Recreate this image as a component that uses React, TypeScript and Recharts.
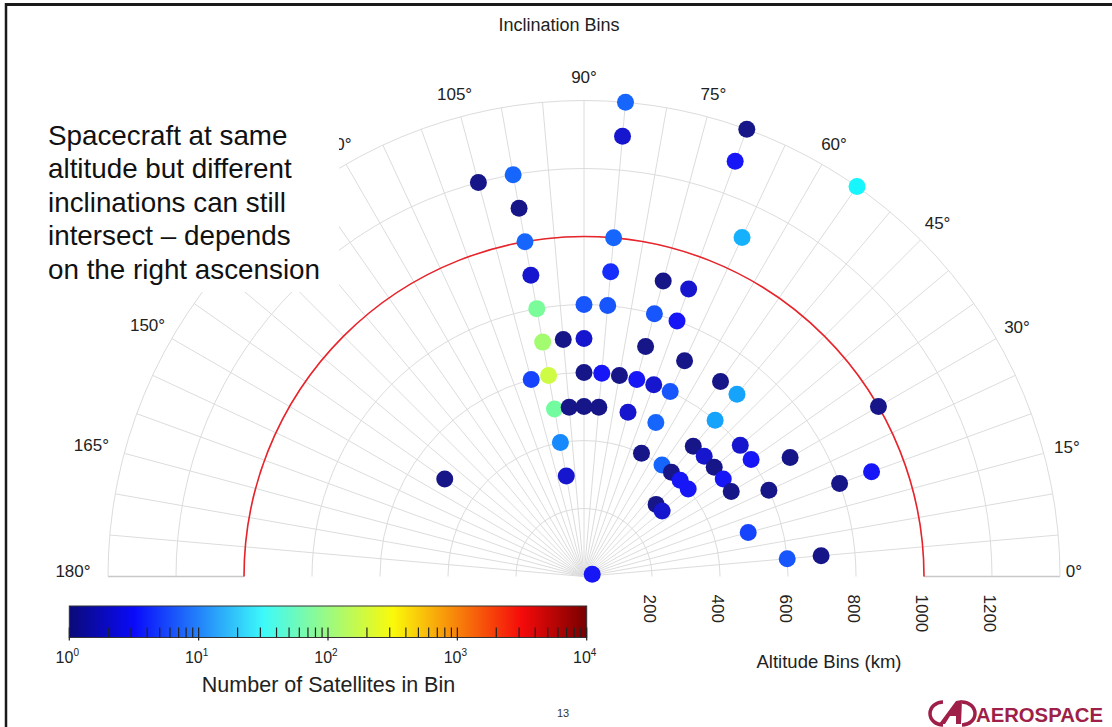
import React from 'react';
import { ScatterChart, Scatter, XAxis, YAxis, ReferenceArea } from 'recharts';

// ---------- data ----------
const inclinations = [
  85, 85, 70, 70, 55, 105, 100, 100, 100, 85, 65, 100, 85, 75, 70, 100, 90, 85, 75, 70,
  100, 95, 90, 75, 65, 105, 100, 90, 85, 80, 75, 70, 65, 55, 50, 100, 95, 90, 85, 75,
  65, 50, 100, 65, 50, 45, 40, 35, 30, 40, 35, 25, 30, 55, 50, 45, 40, 45, 40, 15,
  5, 5, 20, 20, 30, 145, 100, 15,
];
const altitudes = [
  1400, 1300, 1400, 1300, 1400, 1200, 1200, 1100, 1000, 1000, 1100, 900, 900, 900, 900, 800, 800, 800, 800, 800,
  700, 700, 700, 700, 700, 600, 600, 600, 600, 600, 600, 600, 600, 700, 700, 500, 500, 500, 500, 500,
  500, 600, 400, 400, 500, 500, 500, 500, 500, 600, 600, 600, 700, 400, 400, 400, 400, 300, 300, 500,
  600, 700, 800, 900, 1000, 500, 300, 25,
];
const satelliteCounts = [
  7, 2, 1, 3, 30, 1, 7, 1, 7, 7, 15, 2, 4, 1, 2, 85, 6, 6, 6, 3,
  130, 1, 2, 1, 1, 5, 200, 1, 3, 1, 3, 2, 6, 1, 13, 80, 1, 1, 1, 2,
  7, 13, 10, 1, 1, 2, 1, 3, 1, 2, 3, 1, 1, 7, 1, 3, 3, 1, 2, 5,
  6, 1, 1, 3, 1, 1, 2, 3,
];

// 135° label is hidden behind the text box in the reference
const angleTicks = [0, 15, 30, 45, 60, 75, 90, 105, 120, 150, 165, 180];
const altitudeTicks = [200, 400, 600, 800, 1000, 1200];
const gridAltitudes = [200, 400, 600, 800, 1000, 1200, 1400];
const highlightAltitude = 1000;
const colorbarExponents = [0, 1, 2, 3, 4];

const textLines = [
  'Spacecraft at same',
  'altitude but different',
  'inclinations can still',
  'intersect \u2013 depends',
  'on the right ascension',
];

// ---------- layout ----------
const W = 1112;
const H = 727;
const CX = 584;
const CY = 576.5;
const PX_PER_KM = 0.34;
const XMIN = -CX / PX_PER_KM;
const XMAX = (W - CX) / PX_PER_KM;
const YMIN = -(H - CY) / PX_PER_KM;
const YMAX = CY / PX_PER_KM;
const RMAX = 1400;
const FONT = '"Liberation Sans", Arial, Helvetica, sans-serif';

const clamp = (v: number) => Math.max(0, Math.min(1, v));
function jet(t: number) {
  const r = clamp(1.5 - Math.abs(4 * t - 3));
  const g = clamp(1.5 - Math.abs(4 * t - 2));
  const b = clamp(1.5 - Math.abs(4 * t - 1));
  const mix = (c: number) => Math.round(c * 255 * 0.9 + 22);
  return `rgb(${mix(r)},${mix(g)},${mix(b)})`;
}
const colorFor = (count: number) => jet(Math.log10(count) / 4);

const rad = (d: number) => (d * Math.PI) / 180;
const points = inclinations.map((inc, i) => ({
  x: altitudes[i] * Math.cos(rad(inc)),
  y: altitudes[i] * Math.sin(rad(inc)),
  inc,
  alt: altitudes[i],
  count: satelliteCounts[i],
}));

const labelRadius = (a: number) => (a === 0 ? 490 : a === 180 ? 511 : a === 165 ? 510 : a === 150 ? 504 : 500);

const PolarGrid = (props: any) => {
  const { x, y, width, height } = props;
  if (x == null || width == null) return <g />;
  const cx = x + width / 2;
  const cy = y + height;
  const k = width / (2 * RMAX);
  const radials: number[] = [];
  for (let a = 5; a < 180; a += 5) radials.push(a);
  return (
    <g>
      {radials.map((a) => (
        <line
          key={'r' + a}
          x1={cx}
          y1={cy}
          x2={cx + RMAX * k * Math.cos(rad(a))}
          y2={cy - RMAX * k * Math.sin(rad(a))}
          stroke="#dcdcdc"
          strokeWidth={1}
        />
      ))}
      {[0, 180].map((a) => (
        <line
          key={'b' + a}
          x1={cx + highlightAltitude * k * Math.cos(rad(a))}
          y1={cy}
          x2={cx + RMAX * k * Math.cos(rad(a))}
          y2={cy}
          stroke="#c8c8c8"
          strokeWidth={1.5}
        />
      ))}
      {gridAltitudes.map((r) => (
        <path
          key={'a' + r}
          d={`M ${cx - r * k} ${cy} A ${r * k} ${r * k} 0 0 1 ${cx + r * k} ${cy}`}
          fill="none"
          stroke="#dcdcdc"
          strokeWidth={1}
        />
      ))}
      <path
        d={`M ${cx - highlightAltitude * k} ${cy} A ${highlightAltitude * k} ${highlightAltitude * k} 0 0 1 ${cx + highlightAltitude * k} ${cy}`}
        fill="none"
        stroke="#e8242a"
        strokeWidth={1.6}
      />
      {angleTicks.map((a) => {
        const r = labelRadius(a);
        const lx = cx + r * Math.cos(rad(a));
        const ly = cy - r * Math.sin(rad(a)) - (a === 0 || a === 180 ? 6 : 0);
        return (
          <text
            key={'l' + a}
            x={lx}
            y={ly}
            dy="0.36em"
            textAnchor="middle"
            fontSize={17}
            fontFamily={FONT}
            fill="#222"
          >
            {a + '\u00B0'}
          </text>
        );
      })}
      {altitudeTicks.map((r) => {
        const tx = cx + r * k - 2;
        const ty = cy + 18;
        return (
          <text
            key={'t' + r}
            x={tx}
            y={ty}
            transform={`rotate(90 ${tx} ${ty})`}
            textAnchor="start"
            dy="0.36em"
            fontSize={17}
            fontFamily={FONT}
            fill="#222"
          >
            {r}
          </text>
        );
      })}
    </g>
  );
};

const Dot = (props: any) => {
  const { cx, cy, payload } = props;
  if (cx == null || cy == null) return <g />;
  return <circle cx={cx} cy={cy} r={8.5} fill={colorFor(payload.count)} />;
};

// colorbar geometry
const CB_X0 = 69.3;
const CB_X1 = 586.7;
const CB_Y = 606;
const CB_H = 31.5;
const decadeW = (CB_X1 - CB_X0) / 4;
const LOGO = '#9e1f48';

export default function App() {
  const minorTicks: number[] = [];
  for (let d = 0; d < 4; d++) for (let m = 2; m <= 9; m++) minorTicks.push(CB_X0 + (d + Math.log10(m)) * decadeW);

  return (
    <div style={{ position: 'absolute', left: 0, top: 0, width: W, height: H, background: '#fff', overflow: 'hidden' }}>
      <ScatterChart width={W} height={H} margin={{ top: 0, right: 0, bottom: 0, left: 0 }}>
        <XAxis type="number" dataKey="x" domain={[XMIN, XMAX]} hide allowDataOverflow />
        <YAxis type="number" dataKey="y" domain={[YMIN, YMAX]} hide allowDataOverflow />
        <ReferenceArea x1={-RMAX} x2={RMAX} y1={0} y2={RMAX} shape={PolarGrid} />
        <Scatter data={points} shape={Dot} isAnimationActive={false} />
      </ScatterChart>
      <svg
        width={W}
        height={H}
        style={{ position: 'absolute', left: 0, top: 0, pointerEvents: 'none' }}
        fontFamily={FONT}
      >
        <defs>
          <linearGradient id="jetGrad" x1="0" y1="0" x2="1" y2="0">
            <stop offset="0" stopColor="rgb(10,10,120)" />
            <stop offset="0.125" stopColor="rgb(10,10,250)" />
            <stop offset="0.375" stopColor="rgb(60,250,250)" />
            <stop offset="0.625" stopColor="rgb(250,250,10)" />
            <stop offset="0.875" stopColor="rgb(245,10,10)" />
            <stop offset="1" stopColor="rgb(120,0,0)" />
          </linearGradient>
        </defs>
        {/* slide border */}
        <line x1={5} y1={4.5} x2={W} y2={4.5} stroke="#1a1a1a" strokeWidth={3} />
        <line x1={6} y1={3} x2={6} y2={H} stroke="#1a1a1a" strokeWidth={2.5} />

        {/* title */}
        <text x={559} y={31} textAnchor="middle" fontSize={18} fill="#222">
          Inclination Bins
        </text>

        {/* text box */}
        <rect x={30} y={112} width={309} height={180} fill="#fff" />
        {textLines.map((t, i) => (
          <text key={i} x={48} y={145 + i * 33.4} fontSize={27.8} fill="#111">
            {t}
          </text>
        ))}

        {/* colorbar */}
        <rect x={CB_X0} y={CB_Y} width={CB_X1 - CB_X0} height={CB_H} fill="url(#jetGrad)" stroke="#333" strokeWidth={1} />
        {minorTicks.map((tx, i) => (
          <line key={'m' + i} x1={tx} y1={CB_Y + CB_H} x2={tx} y2={CB_Y + CB_H - 10} stroke="#222" strokeWidth={1.2} />
        ))}
        {colorbarExponents.map((e) => {
          const tx = CB_X0 + e * decadeW;
          return (
            <g key={'e' + e}>
              <line x1={tx} y1={CB_Y + CB_H - 10} x2={tx} y2={CB_Y + CB_H + 3} stroke="#222" strokeWidth={1.2} />
              <text x={tx - 2} y={663} textAnchor="middle" fontSize={16} fill="#222">
                10
                <tspan fontSize={10} dy={-7}>
                  {e}
                </tspan>
              </text>
            </g>
          );
        })}
        <text x={328.5} y={692} textAnchor="middle" fontSize={21.5} fill="#222">
          Number of Satellites in Bin
        </text>

        <text x={829} y={668} textAnchor="middle" fontSize={18.5} fill="#222">
          Altitude Bins (km)
        </text>

        <text x={563} y={717} textAnchor="middle" fontSize={11} fill="#333">
          13
        </text>

        {/* logo */}
        <g fill="none" stroke={LOGO} strokeWidth={3.5}>
          <path d="M943 702 A 13 11.5 0 0 0 943 725" />
          <path d="M962 702 A 13 11.5 0 0 1 962 725" />
        </g>
        <path d="M939 724 L956 701 L962 700 L961 724 L956 724 L956 716 L950 716 L945 724 Z" fill={LOGO} />
        <text
          x={976}
          y={722}
          fontSize={20}
          fontWeight="bold"
          fill={LOGO}
          fontFamily={'"Liberation Sans Narrow", "Arial Narrow", ' + FONT}
          textLength={127}
          lengthAdjust="spacingAndGlyphs"
        >
          AEROSPACE
        </text>
      </svg>
    </div>
  );
}
